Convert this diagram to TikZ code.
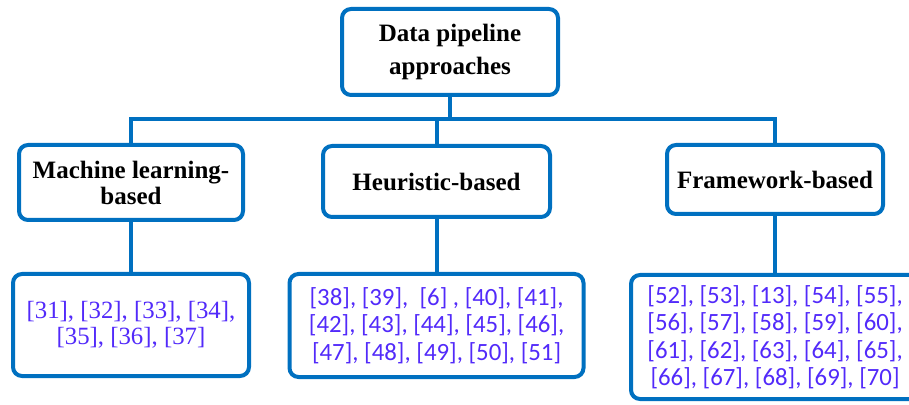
\documentclass[tikz,border=0pt]{standalone}
\usepackage{fontspec}
\setmainfont{Liberation Serif}
\newfontfamily\refsans{Carlito}
\definecolor{boxblue}{HTML}{0070C0}
\definecolor{refblue}{RGB}{82,42,250}
\begin{document}
\begin{tikzpicture}[x=1pt,y=1pt,
  box/.style={draw=boxblue, line width=4pt, rounded corners=9pt, fill=white,
              align=center, inner sep=0pt},
  head/.style={box, font=\bfseries\fontsize{25}{26}\selectfont},
  refserif/.style={box, text=refblue, font=\fontsize{24.8}{26}\selectfont},
  refcal/.style={box, text=refblue, font=\refsans\fontsize{24.8}{27.5}\selectfont},
  link/.style={draw=boxblue, line width=4pt}]
\useasboundingbox (0,0) rectangle (909,404);
\clip (0,0) rectangle (909,404);

% root
\node[head, minimum width=216pt, minimum height=86pt, font=\bfseries\fontsize{25}{33}\selectfont]
  (root) at (450,352) {Data pipeline\\approaches};

% categories
\node[head, minimum width=224pt, minimum height=75pt] (ml) at (131,221.5)
  {Machine learning-\\based};
\node[head, minimum width=227pt, minimum height=71pt] (hb) at (436.5,222.5)
  {Heuristic-based};
\node[head, minimum width=216pt, minimum height=69pt] (fw) at (775,224.5)
  {Framework-based};

% reference lists
\node[refserif, minimum width=236pt, minimum height=102pt] (mlr) at (131,79)
  {[31], [32], [33], [34],\\{}[35], [36], [37]};
\node[refcal, minimum width=294pt, minimum height=103pt] (hbr) at (436.5,78.5)
  {[38], [39],\ \ [6]\ , [40], [41],\\{}[42], [43], [44], [45], [46],\\{}[47], [48], [49], [50], [51]};
\node[refcal, minimum width=288pt, minimum height=124pt] (fwr) at (775,67)
  {[52], [53], [13], [54], [55],\\{}[56], [57], [58], [59], [60],\\{}[61], [62], [63], [64], [65],\\{}[66], [67], [68], [69], [70]};

% tree connectors
\coordinate (bus) at (450,284.5);
\draw[link] (root.south) -- (bus);
\draw[link] (ml.north) |- (bus) -| (fw.north);
\draw[link] (hb.north) -- (hb.north |- bus);
\draw[link] (ml.south) -- (mlr.north);
\draw[link] (hb.south) -- (hbr.north);
\draw[link] (fw.south) -- (fwr.north);
\end{tikzpicture}
\end{document}
